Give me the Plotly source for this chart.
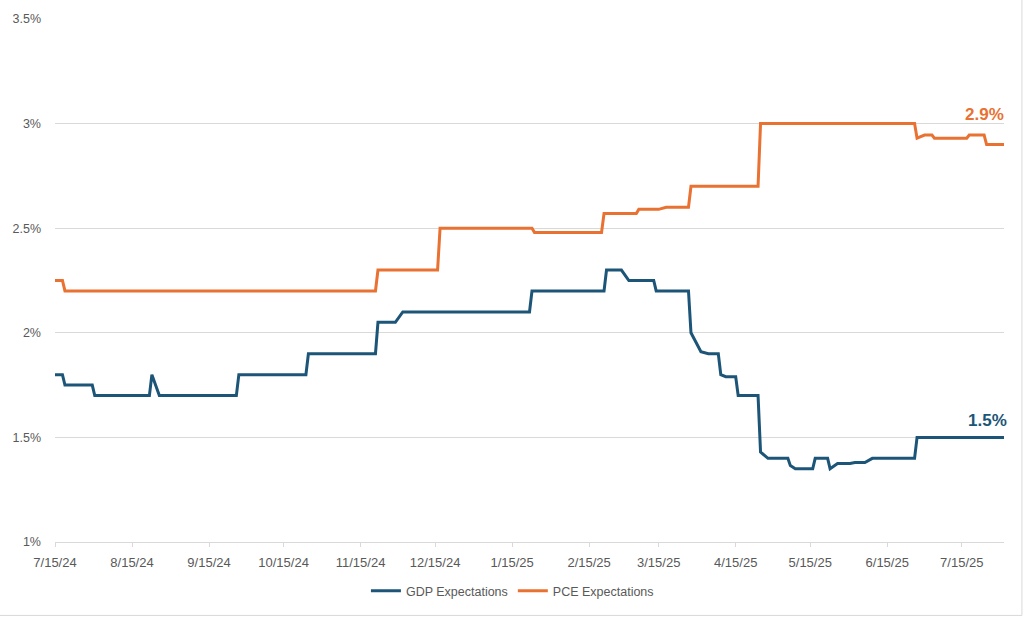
import plotly.graph_objects as go

# change points (daily series, only turning points kept)
gdp_dates = [
    "2024-07-15", "2024-07-18", "2024-07-19", "2024-07-30", "2024-07-31",
    "2024-08-22", "2024-08-23", "2024-08-26", "2024-09-26", "2024-09-27",
    "2024-10-24", "2024-10-25", "2024-11-21", "2024-11-22", "2024-11-29",
    "2024-12-02", "2025-01-22", "2025-01-23", "2025-02-21", "2025-02-22",
    "2025-02-28", "2025-03-03", "2025-03-13", "2025-03-14", "2025-03-27",
    "2025-03-28", "2025-04-01", "2025-04-04", "2025-04-08", "2025-04-09",
    "2025-04-11", "2025-04-15", "2025-04-16", "2025-04-24", "2025-04-25",
    "2025-04-28", "2025-05-06", "2025-05-07", "2025-05-09", "2025-05-16",
    "2025-05-17", "2025-05-22", "2025-05-23", "2025-05-26", "2025-05-31",
    "2025-06-02", "2025-06-06", "2025-06-09", "2025-06-26", "2025-06-27",
    "2025-08-01",
]
gdp_values = [
    1.80, 1.80, 1.75, 1.75, 1.70,
    1.70, 1.80, 1.70, 1.70, 1.80,
    1.80, 1.90, 1.90, 2.05, 2.05,
    2.10, 2.10, 2.20, 2.20, 2.30,
    2.30, 2.25, 2.25, 2.20, 2.20,
    2.00, 1.91, 1.90, 1.90, 1.80,
    1.79, 1.79, 1.70, 1.70, 1.43,
    1.40, 1.40, 1.365, 1.35, 1.35,
    1.40, 1.40, 1.35, 1.375, 1.375,
    1.38, 1.38, 1.40, 1.40, 1.50,
    1.50,
]

pce_dates = [
    "2024-07-15", "2024-07-18", "2024-07-19", "2024-11-21", "2024-11-22",
    "2024-12-16", "2024-12-17", "2025-01-23", "2025-01-24", "2025-02-20",
    "2025-02-21", "2025-03-06", "2025-03-07", "2025-03-15", "2025-03-18",
    "2025-03-27", "2025-03-28", "2025-04-24", "2025-04-25", "2025-06-26",
    "2025-06-27", "2025-06-30", "2025-07-03", "2025-07-04", "2025-07-17",
    "2025-07-18", "2025-07-24", "2025-07-25", "2025-08-01",
]
pce_values = [
    2.25, 2.25, 2.20, 2.20, 2.30,
    2.30, 2.50, 2.50, 2.48, 2.48,
    2.57, 2.57, 2.59, 2.59, 2.60,
    2.60, 2.70, 2.70, 3.00, 3.00,
    2.93, 2.945, 2.945, 2.93, 2.93,
    2.945, 2.945, 2.90, 2.90,
]

x_tick_dates = [
    "2024-07-15", "2024-08-15", "2024-09-15", "2024-10-15", "2024-11-15",
    "2024-12-15", "2025-01-15", "2025-02-15", "2025-03-15", "2025-04-15",
    "2025-05-15", "2025-06-15", "2025-07-15",
]
x_tick_labels = [
    "7/15/24", "8/15/24", "9/15/24", "10/15/24", "11/15/24",
    "12/15/24", "1/15/25", "2/15/25", "3/15/25", "4/15/25",
    "5/15/25", "6/15/25", "7/15/25",
]
y_ticks = [1, 1.5, 2, 2.5, 3, 3.5]
y_tick_labels = ["1%", "1.5%", "2%", "2.5%", "3%", "3.5%"]

BLUE = "#1c5577"
ORANGE = "#E97132"
GREY_TEXT = "#595959"
GRID = "#d9d9d9"
FONT = "Liberation Sans, Arial, sans-serif"

fig = go.Figure()
fig.add_trace(go.Scatter(
    x=gdp_dates, y=gdp_values, mode="lines", name="GDP Expectations",
    line=dict(color=BLUE, width=3),
))
fig.add_trace(go.Scatter(
    x=pce_dates, y=pce_values, mode="lines", name="PCE Expectations",
    line=dict(color=ORANGE, width=3),
))

# end-of-line value labels
fig.add_annotation(
    x=pce_dates[-1], y=pce_values[-1], text=f"<b>{pce_values[-1]:.1f}%</b>",
    showarrow=False, xanchor="right", yanchor="middle", xshift=2, yshift=30,
    font=dict(family=FONT, size=17, color=ORANGE),
)
fig.add_annotation(
    x=gdp_dates[-1], y=gdp_values[-1], text=f"<b>{gdp_values[-1]:.1f}%</b>",
    showarrow=False, xanchor="right", yanchor="middle", xshift=5, yshift=17,
    font=dict(family=FONT, size=17, color=BLUE),
)

# chart frame: right and bottom edges show in the source
fig.add_shape(type="line", xref="paper", yref="paper", x0=1.0189, x1=1.0189, y0=-0.1404, y1=1.04,
              line=dict(color=GRID, width=1))
fig.add_shape(type="line", xref="paper", yref="paper", x0=-0.06, x1=1.0189, y0=-0.1404, y1=-0.1404,
              line=dict(color=GRID, width=1))

fig.update_layout(
    width=1024, height=618,
    margin=dict(l=53, r=20, t=16, b=75),
    paper_bgcolor="white", plot_bgcolor="white",
    font=dict(family=FONT, size=12.5, color=GREY_TEXT),
    showlegend=True,
    legend=dict(orientation="h", x=0.482, xanchor="center", y=-0.094, yanchor="middle",
                font=dict(size=12.5, color=GREY_TEXT), itemwidth=30, tracegroupgap=0),
    xaxis=dict(
        type="date", range=["2024-07-15", "2025-08-01"],
        tickvals=x_tick_dates, ticktext=x_tick_labels,
        showgrid=False, zeroline=False,
        showline=True, linecolor=GRID, linewidth=1,
        ticks="outside", ticklen=4, tickcolor=GRID, ticklabelstandoff=4,
        tickfont=dict(size=13, color=GREY_TEXT),
    ),
    yaxis=dict(
        range=[1, 3.5], tickvals=y_ticks, ticktext=y_tick_labels,
        showgrid=True, gridcolor=GRID, gridwidth=1, zeroline=False,
        showline=False, ticks="", ticklabelstandoff=13,
        tickfont=dict(size=12.5, color=GREY_TEXT),
    ),
)

# drop the default body margin so the figure sits at the page origin
fig.write_html("out.html", config={"displayModeBar": False},
               post_script="document.body.style.margin='0';")
